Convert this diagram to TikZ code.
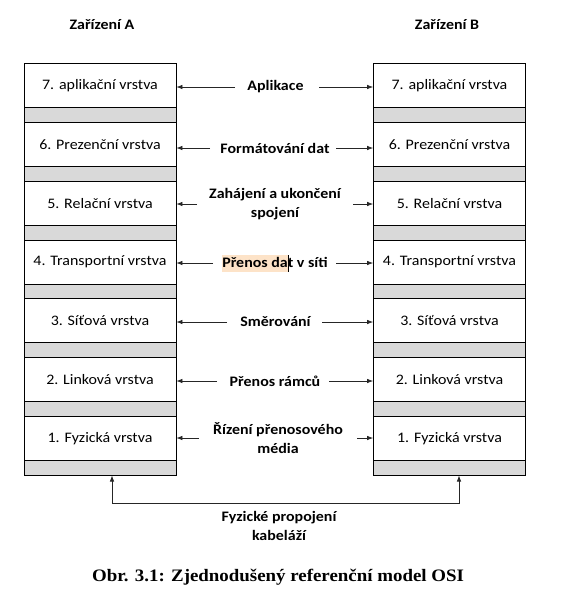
\documentclass[tikz,border=0pt]{standalone}
\usepackage{fontspec}
\setmainfont{Carlito}[FakeStretch=1.1]
\newfontfamily\capfont{Liberation Serif}[FakeStretch=1.08]
\usetikzlibrary{arrows.meta}
\definecolor{layergray}{HTML}{D9D9D9}
\definecolor{hlcol}{HTML}{FDE3C8}
\begin{document}
\begin{tikzpicture}[x=1pt,y=-1pt,
  layer/.style={draw=black,line width=0.8pt,fill=white,minimum width=152pt,minimum height=44pt,inner sep=0pt,font=\fontsize{14.5}{17}\selectfont},
  gap/.style={draw=black,line width=0.8pt,fill=layergray,minimum width=152pt,minimum height=14.8pt,inner sep=0pt},
  lbl/.style={font=\fontsize{14.5}{19.5}\selectfont\bfseries,align=center,inner sep=0pt},
  arr/.style={-{Latex[length=6pt,width=4.5pt]},line width=0.7pt,draw=black!85}]
\useasboundingbox (0,0) rectangle (567,589);

\node[lbl] (hA) at (102,25) {Zařízení A};
\node[lbl] (hB) at (447,25) {Zařízení B};

\foreach \n/\t [count=\k from 0] in {7/7. aplikační vrstva,6/6. Prezenční vrstva,5/5. Relační vrstva,4/4. Transportní vrstva,3/3. Síťová vrstva,2/2. Linková vrstva,1/1. Fyzická vrstva}{
  \node[layer] (A\n) at (100,{85.5+58.8*\k}) {\t};
  \node[layer] (B\n) at (449.5,{85.5+58.8*\k}) {\t};
  \node[gap] (Ag\n) at (100,{85.5+58.8*\k+29.4}) {};
  \node[gap] (Bg\n) at (449.5,{85.5+58.8*\k+29.4}) {};
}

% labels
\node[lbl] (L7) at (275.5,87) {Aplikace};
\node[lbl] (L6) at (275,148) {Formátování dat};
\node[lbl] (L5) at (275,204) {Zahájení a ukončení\\spojení};
\node[lbl] (L4) at (275,263) {{\fboxsep=0pt\colorbox{hlcol}{\rule[-4.5pt]{0pt}{17pt}Přenos da}}\rlap{\rule[-4.5pt]{0.8pt}{17pt}}t v síti};
\node[lbl] (L3) at (275.5,322) {Směrování};
\node[lbl] (L2) at (275,381) {Přenos rámců};
\node[lbl] (L1) at (278,438) {Řízení přenosového\\média};
\node[lbl] (LF) at (279,526) {Fyzické propojení\\kabeláží};

% arrow start points
\coordinate (a7l) at (235,87);  \coordinate (a7r) at (319,87);
\coordinate (a6l) at (210,148); \coordinate (a6r) at (336,148);
\coordinate (a5l) at (197,204); \coordinate (a5r) at (353,204);
\coordinate (a4l) at (213,263); \coordinate (a4r) at (336,263);
\coordinate (a3l) at (227,322); \coordinate (a3r) at (322,322);
\coordinate (a2l) at (217,381); \coordinate (a2r) at (329,381);
\coordinate (a1l) at (199,438); \coordinate (a1r) at (357,438);
\foreach \n in {7,6,5,4,3,2,1}{
  \draw[arr] (a\n l) -- (a\n l -| A\n.east);
  \draw[arr] (a\n r) -- (a\n r -| B\n.west);
}

% physical connection
\coordinate (bl) at (112,503);
\coordinate (br) at (459,503);
\draw[arr,{Latex[length=6pt,width=4.5pt]}-{Latex[length=6pt,width=4.5pt]}] (bl |- Ag1.south) -- (bl) -- (br) -- (br |- Bg1.south);

\node[font=\capfont\bfseries\fontsize{17.5}{21}\selectfont,inner sep=0pt] (cap) at (278,577) {Obr. 3.1: Zjednodušený referenční model OSI};
\end{tikzpicture}
\end{document}
